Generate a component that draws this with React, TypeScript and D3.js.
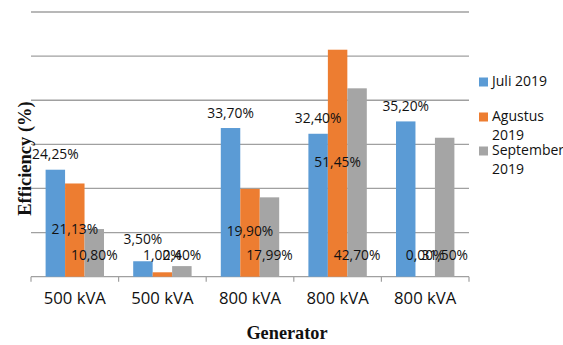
import React from "react";
import * as d3 from "d3";

const categories = ["500 kVA", "500 kVA", "800 kVA", "800 kVA", "800 kVA"];
const seriesNames = ["Juli 2019", "Agustus 2019", "September 2019"];
const legendLines = [["Juli 2019"], ["Agustus", "2019"], ["September", "2019"]];
const juli = [24.25, 3.5, 33.7, 32.4, 35.2];
const agustus = [21.13, 1.0, 19.9, 51.45, 0.0];
const september = [10.8, 2.4, 17.99, 42.7, 31.5];
const yTicks = [0, 10, 20, 30, 40, 50, 60];
const colors = ["#5B9BD5", "#ED7D31", "#A5A5A5"];

const W = 563;
const H = 345;
const left = 31;
const right = 469;
const top = 12;
const bottom = 276.7;

const fmt = (v: number) => v.toFixed(2).replace(".", ",") + "%";

export default function App() {
  const data = [juli, agustus, september];
  const x0 = d3.scaleBand<number>().domain(categories.map((_, i) => i)).range([left, right]).paddingInner(0).paddingOuter(0);
  const x1 = d3.scaleBand<number>().domain([0, 1, 2]).range([0, x0.bandwidth()]).paddingInner(0).paddingOuter(0.75);
  const y = d3.scaleLinear().domain([0, 60]).range([bottom, top]);

  const labelFont = "'Open Sans', sans-serif";
  const labels: { x: number; y: number; t: string }[] = [];
  categories.forEach((_, i) => {
    const ySept = bottom - 20;
    const vA = agustus[i];
    const yAg = Math.min(y(vA / 2), bottom - 20);
    let yJ = y(juli[i]) - 14;
    if (Math.abs(yJ - yAg) < 16) yJ = yAg - 16;
    labels.push({ x: x0(i)! + x1(0)! + x1.bandwidth() / 2, y: yJ, t: fmt(juli[i]) });
    labels.push({ x: x0(i)! + x1(1)! + x1.bandwidth() / 2, y: yAg, t: fmt(vA) });
    labels.push({ x: x0(i)! + x1(2)! + x1.bandwidth() / 2, y: ySept, t: fmt(september[i]) });
  });

  const boundaries = categories.map((_, i) => x0(i)!).concat([right]);

  return (
    <svg width={W} height={H} style={{ position: "absolute", left: 0, top: 0, background: "#fff" }}>
      {yTicks.map((t) => (
        <line key={t} x1={left} x2={right} y1={y(t)} y2={y(t)} stroke="#a0a0a0" strokeWidth={1.3} />
      ))}
      {boundaries.map((b, i) => (
        <line key={i} x1={b} x2={b} y1={bottom} y2={bottom + 5} stroke="#a0a0a0" strokeWidth={1.2} />
      ))}
      {data.map((s, si) =>
        s.map((v, i) => (
          <rect
            key={si + "-" + i}
            x={x0(i)! + x1(si)!}
            y={y(v)}
            width={x1.bandwidth()}
            height={bottom - y(v)}
            fill={colors[si]}
          />
        ))
      )}
      {labels.map((l, i) => (
        <text key={i} x={l.x} y={l.y} textAnchor="middle" dominantBaseline="middle" fontFamily={labelFont} fontSize={13.8} fill="#111">
          {l.t}
        </text>
      ))}
      {categories.map((c, i) => (
        <text key={i} x={x0(i)! + x0.bandwidth() / 2} y={300} textAnchor="middle" dominantBaseline="middle" fontFamily={labelFont} fontSize={16.7} fill="#111">
          {c}
        </text>
      ))}
      <text x={287} y={339} textAnchor="middle" fontFamily="'Liberation Serif', serif" fontWeight="bold" fontSize={18.3} fill="#111">
        Generator
      </text>
      <text
        transform={`translate(31,158.5) rotate(-90)`}
        textAnchor="middle"
        fontFamily="'Liberation Serif', serif"
        fontWeight="bold"
        fontSize={18.5}
        fill="#111"
      >
        Efficiency (%)
      </text>
      {seriesNames.map((n, si) => {
        const cy = [82, 117, 151][si];
        return (
          <g key={n}>
            <rect x={479} y={cy - 4.5} width={9} height={9} fill={colors[si]} />
            {legendLines[si].map((ln, li) => (
              <text key={li} x={492} y={cy + li * 19.5} dominantBaseline="middle" fontFamily={labelFont} fontSize={14} fill="#111">
                {ln}
              </text>
            ))}
          </g>
        );
      })}
    </svg>
  );
}
